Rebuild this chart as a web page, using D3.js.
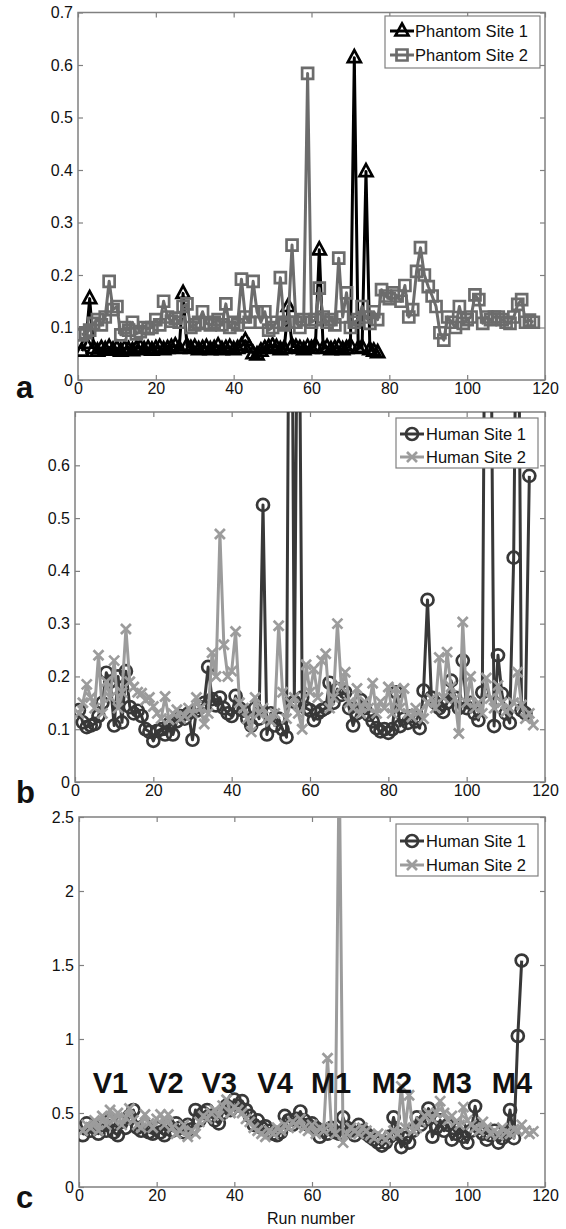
<!DOCTYPE html>
<html>
<head>
<meta charset="utf-8">
<script src="https://cdn.jsdelivr.net/npm/d3@7"></script>
<style>
  body { margin: 0; background: #fff; }
  svg text { font-family: "Liberation Sans", Arial, Helvetica, sans-serif; }
</style>
</head>
<body>
<div id="chart"></div>
<script>
// ---- data (run number = index + 1) ----
var phantomSite1 = [0.055, 0.07, 0.155, 0.06, 0.055, 0.06, 0.058, 0.062, 0.057, 0.06,
  0.055, 0.06, 0.058, 0.056, 0.06, 0.062, 0.058, 0.06, 0.057, 0.06,
  0.062, 0.058, 0.06, 0.062, 0.065, 0.06, 0.165, 0.065, 0.06, 0.062,
  0.058, 0.06, 0.062, 0.058, 0.06, 0.065, 0.058, 0.06, 0.062, 0.058,
  0.06, 0.065, 0.075, 0.062, 0.05, 0.048, 0.055, 0.06, 0.062, 0.065,
  0.062, 0.058, 0.06, 0.14, 0.065, 0.062, 0.06, 0.058, 0.062, 0.06,
  0.065, 0.248, 0.06, 0.062, 0.058, 0.06, 0.062, 0.058, 0.06, 0.065,
  0.614, 0.06, 0.062, 0.397, 0.058, 0.055, 0.052];

var phantomSite2 = [0.086, 0.09, 0.095, 0.108, 0.115, 0.105, 0.12, 0.188, 0.134, 0.14,
  0.086, 0.1, 0.095, 0.11, 0.088, 0.092, 0.1, 0.098, 0.1, 0.115,
  0.105, 0.15, 0.12, 0.112, 0.118, 0.11, 0.14, 0.145, 0.1, 0.105,
  0.11, 0.13, 0.108, 0.105, 0.11, 0.115, 0.105, 0.145, 0.1, 0.11,
  0.105, 0.192, 0.12, 0.11, 0.188, 0.13, 0.11, 0.13, 0.095, 0.1,
  0.11, 0.195, 0.105, 0.11, 0.257, 0.11, 0.1, 0.115, 0.584, 0.11,
  0.115, 0.175, 0.12, 0.11, 0.115, 0.105, 0.232, 0.12, 0.166, 0.1,
  0.11, 0.115, 0.14, 0.12, 0.108, 0.13, 0.115, 0.172, 0.16, 0.155,
  0.166, 0.16, 0.15, 0.18, 0.12, 0.134, 0.207, 0.252, 0.2, 0.178,
  0.16, 0.14, 0.09, 0.076, 0.12, 0.11, 0.1, 0.14, 0.108, 0.115,
  0.12, 0.162, 0.153, 0.108, 0.12, 0.115, 0.12, 0.12, 0.115, 0.11,
  0.108, 0.12, 0.144, 0.153, 0.11, 0.114, 0.11];

var humanSite1B = [0.136, 0.113, 0.104, 0.107, 0.11, 0.125, 0.15, 0.207, 0.19, 0.107,
  0.2, 0.113, 0.21, 0.142, 0.13, 0.135, 0.125, 0.1, 0.095, 0.078,
  0.097, 0.1, 0.09, 0.11, 0.09, 0.115, 0.125, 0.12, 0.13, 0.08,
  0.135, 0.142, 0.15, 0.218, 0.157, 0.145, 0.16, 0.14, 0.13, 0.125,
  0.163, 0.14, 0.135, 0.12, 0.107, 0.14, 0.12, 0.525, 0.09, 0.13,
  0.107, 0.12, 0.1, 0.085, 1.5, 0.152, 1.2, 0.16, 0.14, 0.136,
  0.117, 0.13, 0.136, 0.14, 0.188, 0.15, 0.176, 0.165, 0.17, 0.14,
  0.107, 0.13, 0.155, 0.14, 0.127, 0.115, 0.102, 0.096, 0.1, 0.093,
  0.1, 0.17, 0.106, 0.12, 0.112, 0.125, 0.115, 0.102, 0.173, 0.345,
  0.16, 0.15, 0.14, 0.133, 0.15, 0.192, 0.16, 0.14, 0.23, 0.14,
  0.15, 0.13, 0.117, 0.17, 1.4, 1.1, 0.106, 0.24, 0.167, 0.13,
  0.112, 0.425, 1.2, 0.136, 0.13, 0.58];

var humanSite2B = [0.13, 0.15, 0.185, 0.16, 0.14, 0.24, 0.13, 0.19, 0.16, 0.23,
  0.14, 0.17, 0.29, 0.19, 0.18, 0.17, 0.168, 0.155, 0.16, 0.143,
  0.13, 0.12, 0.162, 0.118, 0.13, 0.137, 0.12, 0.125, 0.14, 0.13,
  0.16, 0.14, 0.11, 0.13, 0.245, 0.2, 0.47, 0.26, 0.2, 0.21,
  0.285, 0.15, 0.14, 0.12, 0.095, 0.16, 0.13, 0.14, 0.12, 0.115,
  0.13, 0.296, 0.17, 0.12, 0.15, 0.16, 0.13, 0.1, 0.222, 0.17,
  0.214, 0.16, 0.23, 0.243, 0.14, 0.16, 0.3, 0.18, 0.208, 0.15,
  0.14, 0.177, 0.13, 0.152, 0.14, 0.187, 0.13, 0.152, 0.14, 0.18,
  0.13, 0.177, 0.14, 0.177, 0.13, 0.123, 0.14, 0.133, 0.12, 0.15,
  0.158, 0.14, 0.236, 0.16, 0.246, 0.18, 0.158, 0.092, 0.303, 0.15,
  0.2, 0.14, 0.15, 0.13, 0.197, 0.158, 0.14, 0.183, 0.15, 0.133,
  0.14, 0.15, 0.208, 0.146, 0.12, 0.13, 0.108];

var humanSite1C = [0.35, 0.43, 0.38, 0.4, 0.36, 0.42, 0.38, 0.45, 0.37, 0.35,
  0.44, 0.4, 0.48, 0.52, 0.4, 0.38, 0.42, 0.37, 0.36, 0.4,
  0.37, 0.35, 0.42, 0.38, 0.43, 0.4, 0.37, 0.42, 0.39, 0.52,
  0.45, 0.5, 0.52, 0.48, 0.45, 0.43, 0.5, 0.55, 0.52, 0.59,
  0.55, 0.58, 0.52, 0.48, 0.42, 0.45, 0.4, 0.41, 0.38, 0.36,
  0.35, 0.37, 0.48, 0.45, 0.42, 0.46, 0.51, 0.45, 0.42, 0.43,
  0.4, 0.34, 0.38, 0.36, 0.4, 0.37, 0.36, 0.47, 0.4, 0.38,
  0.35, 0.42, 0.38, 0.36, 0.34, 0.32, 0.3, 0.28, 0.3, 0.34,
  0.47, 0.36, 0.27, 0.33, 0.3, 0.38, 0.47, 0.42, 0.45, 0.53,
  0.34, 0.4, 0.45, 0.38, 0.42, 0.32, 0.36, 0.4, 0.34, 0.3,
  0.38, 0.545, 0.4, 0.36, 0.32, 0.35, 0.38, 0.3, 0.33, 0.36,
  0.52, 0.33, 1.02, 1.53];

var humanSite2C = [0.38, 0.42, 0.4, 0.45, 0.38, 0.48, 0.42, 0.52, 0.45, 0.5,
  0.42, 0.47, 0.53, 0.45, 0.42, 0.4, 0.49, 0.43, 0.4, 0.46,
  0.49, 0.42, 0.49, 0.4, 0.36, 0.38, 0.42, 0.34, 0.38, 0.36,
  0.44, 0.48, 0.46, 0.5, 0.52, 0.48, 0.55, 0.59, 0.5, 0.54,
  0.52, 0.5, 0.46, 0.44, 0.4, 0.38, 0.36, 0.34, 0.38, 0.36,
  0.4, 0.38, 0.42, 0.4, 0.44, 0.42, 0.46, 0.4, 0.38, 0.42,
  0.36, 0.4, 0.38, 0.87, 0.4, 0.36, 2.9, 0.3, 0.36, 0.4,
  0.38, 0.36, 0.4, 0.38, 0.35, 0.33, 0.36, 0.34, 0.32, 0.35,
  0.38, 0.36, 0.68, 0.4, 0.62, 0.38, 0.4, 0.44, 0.48, 0.5,
  0.46, 0.5, 0.58, 0.5, 0.45, 0.48, 0.44, 0.42, 0.54, 0.45,
  0.42, 0.4, 0.38, 0.44, 0.4, 0.36, 0.38, 0.35, 0.4, 0.37,
  0.36, 0.39, 0.38, 0.42, 0.38, 0.36, 0.376];

var xTicks = [0, 20, 40, 60, 80, 100, 120];
var yTicksA = [0, 0.1, 0.2, 0.3, 0.4, 0.5, 0.6, 0.7];
var yTicksB = [0, 0.1, 0.2, 0.3, 0.4, 0.5, 0.6];
var yTicksC = [0, 0.5, 1, 1.5, 2, 2.5];

// session labels in panel c, placed at run number
var sessionNames = ["V1", "V2", "V3", "V4", "M1", "M2", "M3", "M4"];
var sessionRuns = [8.1, 22.4, 36.1, 50.5, 64.9, 80.6, 96, 111.5];

// ---- layout ----
var width = 566, height = 1229;
var axisColor = "#808080";

var svg = d3.select("#chart").append("svg")
    .attr("width", width)
    .attr("height", height);

var panels = [
    {
        id: "a", left: 78, right: 545, top: 12.5, bottom: 380, yMax: 0.7, yTicks: yTicksA,
        series: [
            { name: "Phantom Site 1", values: phantomSite1, color: "#000", marker: "triangle" },
            { name: "Phantom Site 2", values: phantomSite2, color: "#6c6c6c", marker: "square" }
        ],
        legend: { x: 385, y: 16, w: 155, h: 52, sx: 390, tx: 415, rows: [31, 55] },
        letterY: 398
    },
    {
        id: "b", left: 75, right: 545, top: 412, bottom: 782, yMax: 0.701, yTicks: yTicksB,
        series: [
            { name: "Human Site 1", values: humanSite1B, color: "#383838", marker: "circle" },
            { name: "Human Site 2", values: humanSite2B, color: "#9c9c9c", marker: "x" }
        ],
        legend: { x: 396, y: 418, w: 142, h: 50, sx: 400, tx: 426, rows: [434, 457] },
        letterY: 803
    },
    {
        id: "c", left: 79, right: 545, top: 817, bottom: 1187, yMax: 2.5, yTicks: yTicksC,
        series: [
            { name: "Human Site 1", values: humanSite1C, color: "#383838", marker: "circle" },
            { name: "Human Site 2", values: humanSite2C, color: "#9c9c9c", marker: "x" }
        ],
        legend: { x: 396, y: 824, w: 142, h: 52, sx: 400, tx: 426, rows: [841, 865] },
        letterY: 1208
    }
];

// marker path centred on 0,0
function markerPath(type) {
    if (type == "circle") {
        var r = 6;
        return "M" + r + ",0A" + r + "," + r + " 0 1,1 " + (-r) + ",0A" + r + "," + r + " 0 1,1 " + r + ",0";
    }
    if (type == "square") {
        var s = 5.5;
        return "M" + (-s) + "," + (-s) + "h" + (2 * s) + "v" + (2 * s) + "h" + (-2 * s) + "Z";
    }
    if (type == "triangle") {
        return "M0,-7.5L6.5,4.5L-6.5,4.5Z";
    }
    // x
    var a = 5;
    return "M" + (-a) + "," + (-a) + "L" + a + "," + a + "M" + (-a) + "," + a + "L" + a + "," + (-a);
}

panels.forEach(function (p) {
    var x = d3.scaleLinear().domain([0, 120]).range([p.left, p.right]);
    var y = d3.scaleLinear().domain([0, p.yMax]).range([p.bottom, p.top]);

    var g = svg.append("g").attr("class", "panel-" + p.id);

    // clip data to the plot box
    g.append("clipPath").attr("id", "clip-" + p.id)
        .append("rect")
        .attr("x", p.left).attr("y", p.top)
        .attr("width", p.right - p.left).attr("height", p.bottom - p.top);

    // axes, MATLAB style: ticks inside on every side
    var bottomAxis = g.append("g")
        .attr("transform", "translate(0," + p.bottom + ")")
        .call(d3.axisBottom(x).tickValues(xTicks).tickSize(-5).tickPadding(3));
    var topAxis = g.append("g")
        .attr("transform", "translate(0," + p.top + ")")
        .call(d3.axisTop(x).tickValues(xTicks).tickSize(-5).tickFormat(""));
    var leftAxis = g.append("g")
        .attr("transform", "translate(" + p.left + ",0)")
        .call(d3.axisLeft(y).tickValues(p.yTicks).tickSize(-5).tickPadding(5).tickFormat(function (d) { return String(d); }));
    var rightAxis = g.append("g")
        .attr("transform", "translate(" + p.right + ",0)")
        .call(d3.axisRight(y).tickValues(p.yTicks).tickSize(-5).tickFormat(""));

    [bottomAxis, topAxis, leftAxis, rightAxis].forEach(function (ax) {
        ax.select(".domain").remove();
        ax.selectAll(".tick line").attr("stroke", axisColor).attr("stroke-width", 1.2);
        ax.selectAll(".tick text").attr("fill", "#111").style("font-size", "16px");
    });

    g.append("rect")
        .attr("x", p.left).attr("y", p.top)
        .attr("width", p.right - p.left).attr("height", p.bottom - p.top)
        .attr("fill", "none")
        .attr("stroke", axisColor)
        .attr("stroke-width", 1.5);

    var plot = g.append("g").attr("clip-path", "url(#clip-" + p.id + ")");

    var line = d3.line()
        .x(function (d, i) { return x(i + 1); })
        .y(function (d) { return y(d); });

    p.series.forEach(function (s) {
        plot.append("path")
            .datum(s.values)
            .attr("d", line)
            .attr("fill", "none")
            .attr("stroke", s.color)
            .attr("stroke-width", 3)
            .attr("stroke-linejoin", "round");

        plot.selectAll(null)
            .data(s.values)
            .enter().append("path")
            .attr("transform", function (d, i) { return "translate(" + x(i + 1) + "," + y(d) + ")"; })
            .attr("d", markerPath(s.marker))
            .attr("fill", "none")
            .attr("stroke", s.color)
            .attr("stroke-width", 2.7);
    });

    // legend
    var lg = g.append("g");
    lg.append("rect")
        .attr("x", p.legend.x).attr("y", p.legend.y)
        .attr("width", p.legend.w).attr("height", p.legend.h)
        .attr("fill", "#fff")
        .attr("stroke", axisColor)
        .attr("stroke-width", 1.2);
    p.series.forEach(function (s, k) {
        var cy = p.legend.rows[k];
        lg.append("line")
            .attr("x1", p.legend.sx).attr("x2", p.legend.sx + 24)
            .attr("y1", cy).attr("y2", cy)
            .attr("stroke", s.color).attr("stroke-width", 3);
        lg.append("path")
            .attr("transform", "translate(" + (p.legend.sx + 12) + "," + cy + ")")
            .attr("d", markerPath(s.marker))
            .attr("fill", "none")
            .attr("stroke", s.color)
            .attr("stroke-width", 2.7);
        lg.append("text")
            .attr("x", p.legend.tx).attr("y", cy + 6)
            .style("font-size", "16.5px")
            .attr("fill", "#111")
            .text(s.name);
    });

    // panel letter
    g.append("text")
        .attr("x", 16).attr("y", p.letterY)
        .style("font-size", "31px")
        .style("font-weight", "bold")
        .attr("fill", "#111")
        .text(p.id);

    if (p.id == "c") {
        g.selectAll(".session")
            .data(sessionNames)
            .enter().append("text")
            .attr("class", "session")
            .attr("x", function (d, i) { return x(sessionRuns[i]); })
            .attr("y", 1093)
            .attr("text-anchor", "middle")
            .style("font-size", "29px")
            .style("font-weight", "bold")
            .attr("fill", "#111")
            .text(function (d) { return d; });

        g.append("text")
            .attr("x", 311).attr("y", 1224)
            .attr("text-anchor", "middle")
            .style("font-size", "16px")
            .attr("fill", "#111")
            .text("Run number");
    }
});
</script>
</body>
</html>
